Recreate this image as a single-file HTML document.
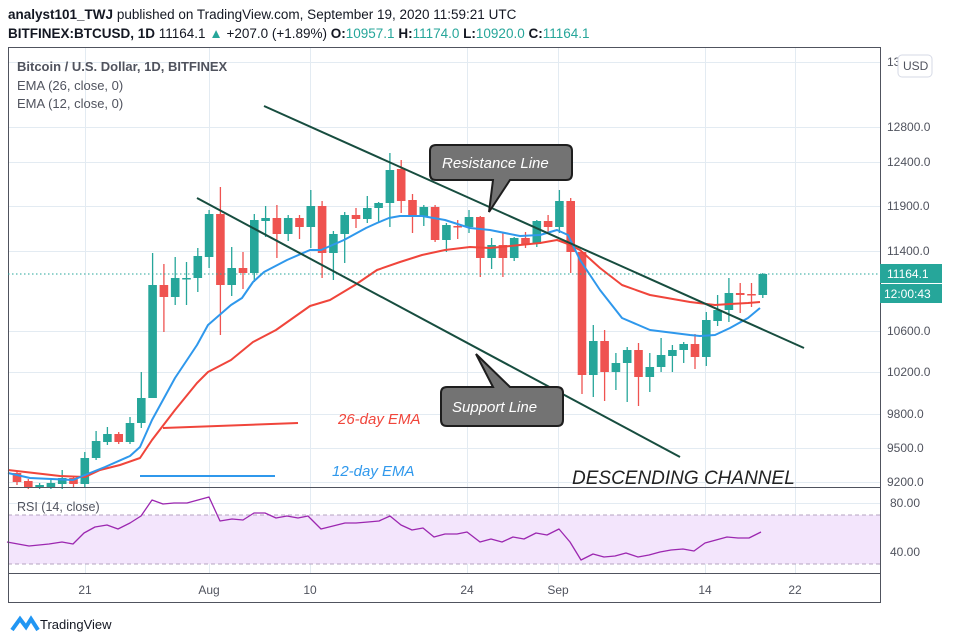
<!DOCTYPE html>
<html><head><meta charset="utf-8"><style>
body{margin:0;background:#fff;width:954px;height:644px;overflow:hidden;font-family:"Liberation Sans",sans-serif}
svg{position:absolute;left:0;top:0}
</style></head><body>
<svg id="s" width="954" height="644" xmlns="http://www.w3.org/2000/svg">
<rect width="954" height="644" fill="#fff"/>
<text x="8" y="19" font-size="13.5" fill="#131722"><tspan font-weight="bold">analyst101_TWJ</tspan> published on TradingView.com, September 19, 2020 11:59:21 UTC</text>
<text x="8" y="38" font-size="13.5" fill="#131722"><tspan font-weight="bold">BITFINEX:BTCUSD, 1D</tspan> 11164.1 <tspan fill="#26a69a">▲</tspan> +207.0 (+1.89%) <tspan font-weight="bold">O:</tspan><tspan fill="#26a69a">10957.1</tspan> <tspan font-weight="bold">H:</tspan><tspan fill="#26a69a">11174.0</tspan> <tspan font-weight="bold">L:</tspan><tspan fill="#26a69a">10920.0</tspan> <tspan font-weight="bold">C:</tspan><tspan fill="#26a69a">11164.1</tspan></text>
<g id="grid" stroke="#e3ebf2" stroke-width="1"></g>
<rect x="8" y="515" width="872" height="49" fill="#f3e5fc"/>
<line x1="8" y1="515" x2="880" y2="515" stroke="#b6a4c0" stroke-dasharray="4,3"/>
<line x1="8" y1="564" x2="880" y2="564" stroke="#b6a4c0" stroke-dasharray="4,3"/>
<g id="c"></g>
<g id="l"></g>
<rect x="8.5" y="47.5" width="872" height="555" fill="none" stroke="#50535e"/>
<line x1="8" y1="487.5" x2="880" y2="487.5" stroke="#50535e"/>
<line x1="8" y1="573.5" x2="880" y2="573.5" stroke="#50535e"/>
<text x="17" y="71" font-size="13" fill="#50535e" font-weight="bold">Bitcoin / U.S. Dollar, 1D, BITFINEX</text>
<text x="17" y="90" font-size="13" fill="#50535e">EMA (26, close, 0)</text>
<text x="17" y="108" font-size="13" fill="#50535e">EMA (12, close, 0)</text>
<text x="17" y="511" font-size="12.5" fill="#50535e">RSI (14, close)</text>
<g font-size="12" fill="#50535e" text-anchor="middle">
<text x="85" y="594">21</text><text x="209" y="594">Aug</text><text x="310" y="594">10</text><text x="467" y="594">24</text><text x="558" y="594">Sep</text><text x="705" y="594">14</text><text x="795" y="594">22</text>
</g>
<g font-size="12" fill="#50535e">
<text x="887" y="131">12800.0</text><text x="887" y="166">12400.0</text><text x="887" y="210">11900.0</text><text x="887" y="255">11400.0</text><text x="887" y="335">10600.0</text><text x="887" y="376">10200.0</text><text x="887" y="418">9800.0</text><text x="887" y="452">9500.0</text><text x="887" y="486">9200.0</text><text x="887" y="66">13200.0</text>
<text x="890" y="507">80.00</text><text x="890" y="556">40.00</text>
</g>
<rect x="898" y="55" width="34" height="22" rx="4" fill="#fff" stroke="#d6dae6"/>
<text x="903" y="70" font-size="12" fill="#50535e">USD</text>
<rect x="880" y="264" width="62" height="19" fill="#26a69a"/>
<text x="887" y="278" font-size="12" fill="#fff">11164.1</text>
<rect x="880" y="284" width="62" height="19" fill="#26a69a"/>
<text x="884" y="298" font-size="12" fill="#fff">12:00:43</text>
<line x1="8" y1="274" x2="880" y2="274" stroke="#26a69a" stroke-dasharray="1.5,2.5"/>
<line x1="264" y1="106" x2="804" y2="348" stroke="#174d3f" stroke-width="2"/>
<line x1="197" y1="198" x2="680" y2="457" stroke="#174d3f" stroke-width="2"/>
<line x1="163" y1="428" x2="298" y2="423" stroke="#f0453b" stroke-width="2"/>
<line x1="140" y1="476" x2="275" y2="476" stroke="#2f98ec" stroke-width="2"/>
<text x="338" y="424" font-size="15" font-style="italic" fill="#f0453b">26-day EMA</text>
<text x="332" y="476" font-size="15" font-style="italic" fill="#2f98ec">12-day EMA</text>
<text x="572" y="484" font-size="19" font-style="italic" fill="#222">DESCENDING CHANNEL</text>
<path d="M436,145 H566 Q572,145 572,151 V174 Q572,180 566,180 H510 L489,212 L493,180 H436 Q430,180 430,174 V151 Q430,145 436,145 Z" fill="#737373" stroke="#1e1e1e" stroke-width="2"/>
<text x="442" y="168" font-size="15" font-style="italic" fill="#fff">Resistance Line</text>
<path d="M447,387 H493 L476,354 L510,387 H557 Q563,387 563,393 V420 Q563,426 557,426 H447 Q441,426 441,420 V393 Q441,387 447,387 Z" fill="#737373" stroke="#1e1e1e" stroke-width="2"/>
<text x="452" y="412" font-size="15" font-style="italic" fill="#fff">Support Line</text>
<path d="M12,630 L20,619 L26,627 L31,619 L38,630" fill="none" stroke="#2196f3" stroke-width="4"/>
<text x="40" y="629" font-size="13" fill="#131722">TradingView</text>
</svg>
<script>
var NS="http://www.w3.org/2000/svg";
function el(p,t,a){var e=document.createElementNS(NS,t);for(var k in a)e.setAttribute(k,a[k]);p.appendChild(e);return e;}
var g=document.getElementById("grid");
[62,127,162,206,251,331,372,414,448,482,503,552].forEach(function(y){el(g,"line",{x1:8,x2:880,y1:y+.5,y2:y+.5});});
[85,209,310,467,558,705,795].forEach(function(x){el(g,"line",{x1:x+.5,x2:x+.5,y1:47,y2:573});});
var C=[[473,482,471,485,0],[481,487,479,489,0],[487,485,483,489,1],[487,483,480,489,1],[484,478,470,489,1],[478,484,476,488,0],[484,458,452,488,1],[458,441,431,460,1],[442,434,427,445,1],[434,442,432,444,0],[442,423,417,444,1],[423,398,372,428,1],[398,285,253,398,1],[285,297,264,332,0],[297,278,257,305,1],[279,278,262,305,1],[278,256,248,292,1],[257,214,210,268,1],[214,285,187,335,0],[285,268,247,296,1],[268,273,252,289,0],[273,220,214,282,1],[221,218,206,237,1],[218,234,205,258,0],[234,218,215,241,1],[218,227,215,239,0],[227,206,190,248,1],[206,253,201,278,0],[253,234,231,280,1],[234,215,212,263,1],[215,219,208,228,0],[219,208,196,223,1],[208,203,202,223,1],[203,170,153,227,1],[169,201,160,213,0],[200,217,194,233,0],[217,207,205,226,1],[207,240,205,242,0],[240,225,223,252,1],[226,227,220,239,0],[227,217,210,233,1],[217,258,216,277,0],[258,245,238,269,1],[245,258,232,277,0],[258,238,237,261,1],[238,244,232,248,0],[244,221,220,247,1],[221,227,215,232,0],[227,201,190,233,1],[201,252,198,273,0],[252,375,252,394,0],[375,341,325,397,1],[341,372,330,401,0],[372,363,353,390,1],[363,350,347,402,1],[350,377,343,406,0],[377,367,353,392,1],[367,355,338,372,1],[356,350,345,372,1],[350,344,342,363,1],[344,357,334,369,0],[357,320,312,366,1],[321,310,295,326,1],[310,293,278,322,1],[293,295,283,313,0],[294,295,283,307,0],[295,274,273,298,1]];
var cg=document.getElementById("c");
C.forEach(function(c,i){var x=17+i*11.3;var col=c[4]?"#26a69a":"#ef5350";
el(cg,"line",{x1:x,x2:x,y1:c[2],y2:c[3],stroke:col,"stroke-width":1.3});
var t=Math.min(c[0],c[1]),h=Math.max(1.5,Math.abs(c[0]-c[1]));
el(cg,"rect",{x:x-4.3,y:t,width:8.6,height:h,fill:col});});
var lg=document.getElementById("l");
function pl(pts,col,w){el(lg,"polyline",{points:pts.map(function(p){return p.join(",")}).join(" "),fill:"none",stroke:col,"stroke-width":w,"stroke-linejoin":"round"});}
pl([[8,470],[60,476],[85,477],[100,470],[120,465],[140,458],[152,440],[175,410],[197,383],[208,372],[231,360],[253,342],[276,330],[310,306],[330,300],[355,285],[377,270],[400,262],[422,255],[445,250],[470,247],[490,248],[520,245],[540,243],[557,240],[568,244],[580,250],[600,268],[622,285],[650,295],[690,302],[715,305],[730,304],[748,303],[760,302]],"#f0453b",2);
pl([[8,473],[30,478],[73,480],[85,475],[105,467],[130,456],[140,447],[152,420],[175,378],[197,345],[208,325],[231,305],[242,298],[253,282],[264,272],[287,260],[310,250],[321,250],[344,240],[366,228],[377,223],[389,218],[400,216],[422,216],[445,220],[470,228],[490,230],[520,236],[540,235],[557,230],[568,235],[580,260],[600,290],[622,318],[650,330],[690,335],[700,336],[715,335],[730,328],[748,318],[760,308]],"#2f98ec",2);
pl([[7,542],[29,546],[49,544],[62,542],[73,544],[84,533],[95,527],[107,525],[118,529],[130,523],[141,516],[152,500],[163,504],[174,503],[187,503],[209,497],[220,521],[232,519],[243,520],[254,513],[265,513],[276,518],[287,516],[298,518],[308,516],[321,529],[333,526],[345,523],[356,523],[368,522],[379,521],[390,516],[401,525],[412,530],[423,528],[434,537],[445,534],[457,534],[467,532],[480,542],[491,539],[502,542],[513,537],[524,539],[536,533],[547,535],[559,529],[570,542],[581,560],[593,554],[604,557],[615,556],[626,553],[638,557],[649,555],[660,552],[671,550],[683,549],[694,551],[705,543],[716,540],[727,537],[738,538],[749,538],[761,532]],"#9c27b0",1.3);
</script>
</body></html>
